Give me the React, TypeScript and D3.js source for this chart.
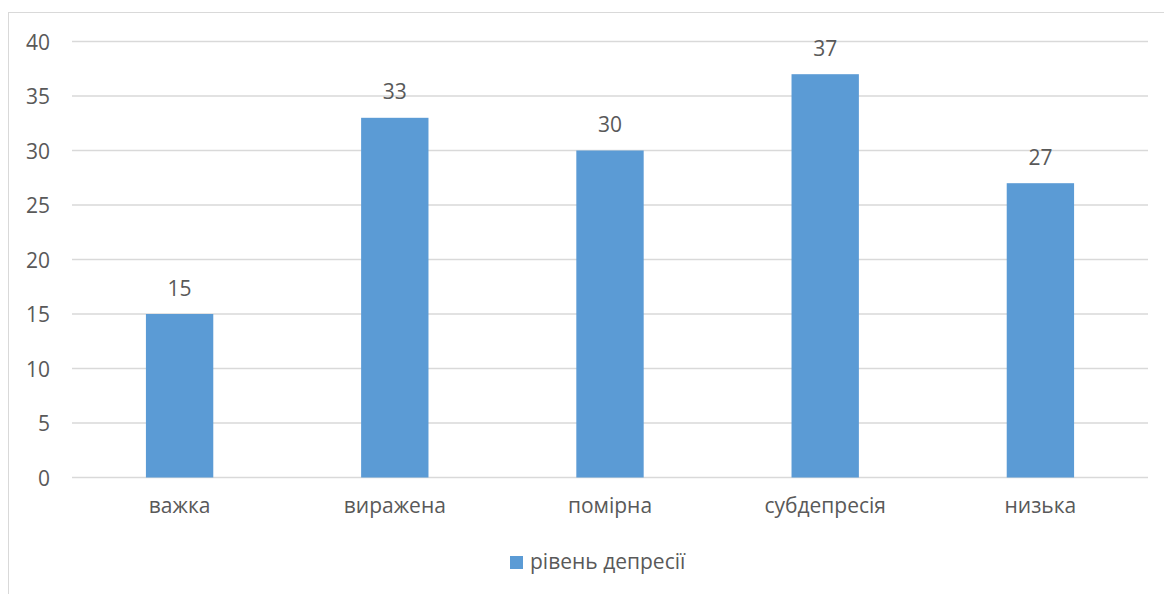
import React from "react";
import * as d3 from "d3";

// Depression level distribution
const categories: string[] = ["важка", "виражена", "помірна", "субдепресія", "низька"];
const values: number[] = [15, 33, 30, 37, 27];
const yTicks: number[] = [0, 5, 10, 15, 20, 25, 30, 35, 40];
const seriesName = "рівень депресії";

const W = 1164;
const H = 594;
const FONT = "'Open Sans', 'Liberation Sans', Arial, sans-serif";
const TEXT = "#595959";
const GRID = "#d9d9d9";
const BAR = "#5b9bd5";
const FS = 21;

export default function App() {
  const plot = { left: 72, right: 1148, top: 41.5, bottom: 477.5 };

  const x = d3
    .scaleBand<string>()
    .domain(categories)
    .range([plot.left, plot.right])
    .paddingInner(0.687)
    .paddingOuter(0.3435);

  const y = d3.scaleLinear().domain([0, 40]).range([plot.bottom, plot.top]);

  return (
    <svg
      width={W}
      height={H}
      style={{ position: "absolute", left: 0, top: 0, background: "#fff" }}
      fontFamily={FONT}
    >
      <rect x={0} y={0} width={W} height={H} fill="#fff" />
      {/* chart area frame */}
      <rect x={8.5} y={12.5} width={W + 20} height={H + 20} fill="none" stroke={GRID} strokeWidth={1} />

      {/* gridlines and y tick labels */}
      {yTicks.map((t) => (
        <g key={t}>
          <line x1={plot.left} x2={plot.right} y1={y(t)} y2={y(t)} stroke={GRID} strokeWidth={1.3} />
          <text x={50} y={y(t) + 8} textAnchor="end" fontSize={FS} fill={TEXT}>
            {t}
          </text>
        </g>
      ))}

      {/* bars */}
      {categories.map((c, i) => (
        <rect
          key={c}
          x={x(c)}
          y={y(values[i])}
          width={x.bandwidth()}
          height={y(0) - y(values[i])}
          fill={BAR}
        />
      ))}

      {/* value labels */}
      {categories.map((c, i) => (
        <text
          key={"v" + c}
          x={(x(c) as number) + x.bandwidth() / 2}
          y={y(values[i]) - 18.5}
          textAnchor="middle"
          fontSize={FS}
          fill={TEXT}
        >
          {values[i]}
        </text>
      ))}

      {/* category labels */}
      {categories.map((c) => (
        <text
          key={"c" + c}
          x={(x(c) as number) + x.bandwidth() / 2}
          y={513}
          textAnchor="middle"
          fontSize={FS}
          fill={TEXT}
        >
          {c}
        </text>
      ))}

      {/* legend */}
      <rect x={510} y={556} width={13} height={13} fill={BAR} />
      <text x={530} y={569} fontSize={FS} fill={TEXT}>
        {seriesName}
      </text>
    </svg>
  );
}
